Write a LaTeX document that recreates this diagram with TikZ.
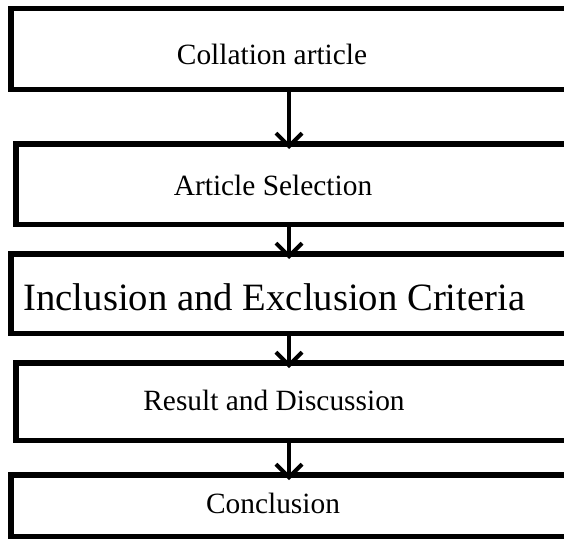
\documentclass[tikz,border=0pt]{standalone}
\usepackage{fontspec}
\setmainfont{Liberation Serif}
\usepackage{tikz}
\usetikzlibrary{arrows.meta,positioning}

\begin{document}
\begin{tikzpicture}[
    x=1pt,y=-1pt,
    stagebox/.style={rectangle,draw,line width=5.5pt,minimum width=629.25pt,inner sep=0pt},
    stagetext/.style={font=\fontsize{29.4}{35}\selectfont,inner sep=0pt},
    arrow/.style={-{Straight Barb[length=13pt,width=26pt]},line width=4pt}
]
    \useasboundingbox (0,0) rectangle (564,543);
    \clip (0,0) rectangle (564,543);
    \coordinate (axis) at (289,0);

    % Frames (they run past the right edge)
    \node[stagebox,minimum height=80.5pt] (collate) at (325.4,49) {};
    \node[stagebox,minimum height=80.5pt,minimum width=624.25pt] (select) at (327.9,184) {};
    \node[stagebox,minimum height=79.5pt] (criteria) at (325.4,293.5) {};
    \node[stagebox,minimum height=77.5pt,minimum width=624.25pt] (result) at (327.9,401.5) {};
    \node[stagebox,minimum height=61.5pt] (conclude) at (325.4,505.5) {};

    % Texts
    \node[stagetext] (collate-t) at (272,54) {Collation article};
    \node[stagetext] (select-t) at (273,185) {Article Selection};
    \node[stagetext,font=\fontsize{38.7}{46}\selectfont] (criteria-t) at (274.5,297) {Inclusion and Exclusion Criteria};
    \node[stagetext] (result-t) at (274,400) {Result and Discussion};
    \node[stagetext] (conclude-t) at (273,503) {Conclusion};

    % Flow
    \draw[arrow] (collate.south -| axis) -- ([yshift=-8pt]select.north -| axis);
    \draw[arrow] (select.south -| axis) -- ([yshift=-8pt]criteria.north -| axis);
    \draw[arrow] (criteria.south -| axis) -- ([yshift=-8pt]result.north -| axis);
    \draw[arrow] (result.south -| axis) -- ([yshift=-8pt]conclude.north -| axis);
\end{tikzpicture}
\end{document}
